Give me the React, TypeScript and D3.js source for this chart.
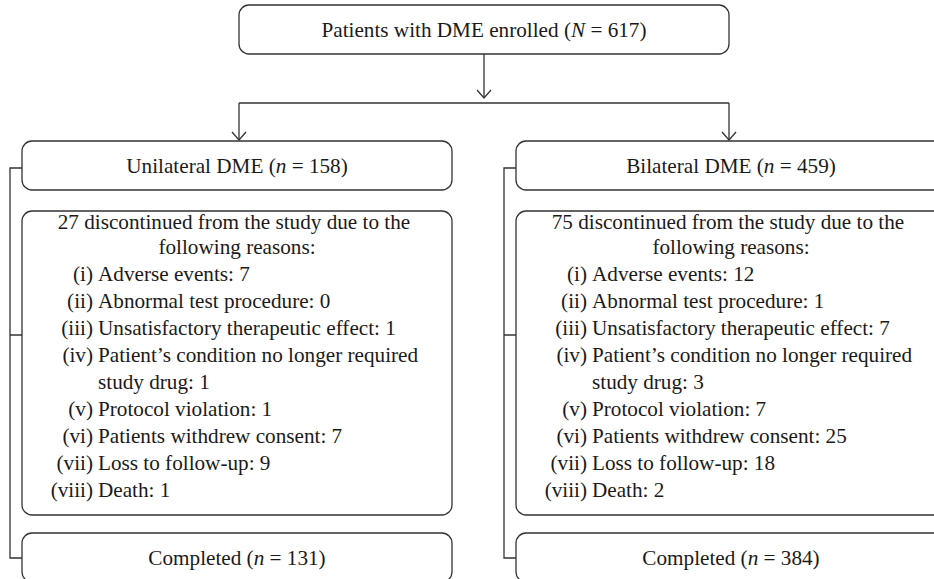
import React from "react";
import * as d3 from "d3";

// flowchart counts
const enrolledN = 617;
const arms = ["Unilateral DME", "Bilateral DME"];
const armN = [158, 459];
const discontinued = [27, 75];
const completedN = [131, 384];
const reasonNumerals = ["(i)", "(ii)", "(iii)", "(iv)", "(v)", "(vi)", "(vii)", "(viii)"];
// "|" marks where the original wraps the line
const reasonLabels = [
  "Adverse events",
  "Abnormal test procedure",
  "Unsatisfactory therapeutic effect",
  "Patient\u2019s condition no longer required|study drug",
  "Protocol violation",
  "Patients withdrew consent",
  "Loss to follow-up",
  "Death",
];
const reasonCounts = [
  [7, 0, 1, 1, 1, 7, 9, 1],
  [12, 1, 7, 3, 7, 25, 18, 2],
];
const headingLines = ["discontinued from the study due to the", "following reasons:"];

const W = 934;
const H = 579;
const FONT = "'Liberation Serif', 'Times New Roman', serif";
const STROKE = "#333";

const NLabel = ({ label, sym, n }: { label: string; sym: string; n: number }) => (
  <>
    {label} (<tspan fontStyle="italic">{sym}</tspan>{" = "}{n})
  </>
);

export default function App() {
  // two columns, 430 wide with a 64 gap; the right one runs off the canvas
  const x = d3.scaleBand<string>().domain(arms).range([22, 946]).paddingInner(64 / 494);
  const bw = x.bandwidth();
  const cx = (a: string) => (x(a) as number) + bw / 2;

  const top = { y: 5, h: 49 };
  const joinY = 103;
  const armBox = { y: 141, h: 49 };
  const reasonBox = { y: 211, h: 304 };
  const doneBox = { y: 533, h: 49 };
  const lineH = 27.1;

  const leftX = cx(arms[0]) + 2;
  const rightX = cx(arms[1]) - 2;
  const midX = (leftX + rightX) / 2;

  const chevron = (px: number, py: number) =>
    `M${px - 7},${py - 8}L${px},${py}L${px + 7},${py - 8}`;

  return (
    <svg width={W} height={H} style={{ position: "absolute", left: 0, top: 0, background: "#fff" }}
      fontFamily={FONT} fontSize={21.2} fill="#1a1a1a">
      {/* enrolled box */}
      <rect x={leftX} y={top.y} width={rightX - leftX} height={top.h} rx={10}
        fill="none" stroke={STROKE} strokeWidth={1.3} />
      <text x={midX} y={top.y + top.h / 2 + 7.5} textAnchor="middle">
        <NLabel label="Patients with DME enrolled" sym="N" n={enrolledN} />
      </text>

      {/* connectors */}
      <g fill="none" stroke={STROKE} strokeWidth={1.3}>
        <line x1={midX} y1={top.y + top.h} x2={midX} y2={joinY - 5} />
        <path d={chevron(midX, joinY - 5)} />
        <line x1={leftX} y1={joinY} x2={rightX} y2={joinY} />
        {[leftX, rightX].map((px, i) => (
          <g key={i}>
            <line x1={px} y1={joinY} x2={px} y2={armBox.y - 1} />
            <path d={chevron(px, armBox.y - 1)} />
          </g>
        ))}
      </g>

      {arms.map((arm, ai) => {
        const x0 = x(arm) as number;
        const c = cx(arm);
        const brX = x0 - 12;
        const lines: { num?: string; text: string }[] = [];
        reasonLabels.forEach((lab, ri) => {
          const parts = lab.split("|");
          parts.forEach((p, pi) => {
            const last = pi === parts.length - 1;
            lines.push({
              num: pi === 0 ? reasonNumerals[ri] : undefined,
              text: last ? `${p}: ${reasonCounts[ai][ri]}` : p,
            });
          });
        });
        const firstY = reasonBox.y + 17.5;
        return (
          <g key={arm}>
            {/* bracket on the left side */}
            <path
              d={`M${x0},${armBox.y + 27}H${brX}V${doneBox.y + 25}H${x0}M${brX},${reasonBox.y + 124}H${x0}`}
              fill="none" stroke={STROKE} strokeWidth={1.3} />
            <rect x={x0} y={armBox.y} width={bw} height={armBox.h} rx={10}
              fill="none" stroke={STROKE} strokeWidth={1.3} />
            <text x={c} y={armBox.y + armBox.h / 2 + 7.5} textAnchor="middle">
              <NLabel label={arm} sym="n" n={armN[ai]} />
            </text>

            <rect x={x0} y={reasonBox.y} width={bw} height={reasonBox.h} rx={10}
              fill="none" stroke={STROKE} strokeWidth={1.3} />
            <text x={c - 3} y={firstY} textAnchor="middle">
              {discontinued[ai]} {headingLines[0]}
            </text>
            <text x={c} y={firstY + 25} textAnchor="middle">{headingLines[1]}</text>
            {lines.map((ln, li) => {
              const y = firstY + 25 + lineH * (li + 1);
              return (
                <g key={li}>
                  {ln.num && <text x={x0 + 71} y={y} textAnchor="end">{ln.num}</text>}
                  <text x={x0 + 76} y={y}>{ln.text}</text>
                </g>
              );
            })}

            <rect x={x0} y={doneBox.y} width={bw} height={doneBox.h} rx={10}
              fill="none" stroke={STROKE} strokeWidth={1.3} />
            <text x={c} y={doneBox.y + doneBox.h / 2 + 7.5} textAnchor="middle">
              <NLabel label="Completed" sym="n" n={completedN[ai]} />
            </text>
          </g>
        );
      })}
    </svg>
  );
}
